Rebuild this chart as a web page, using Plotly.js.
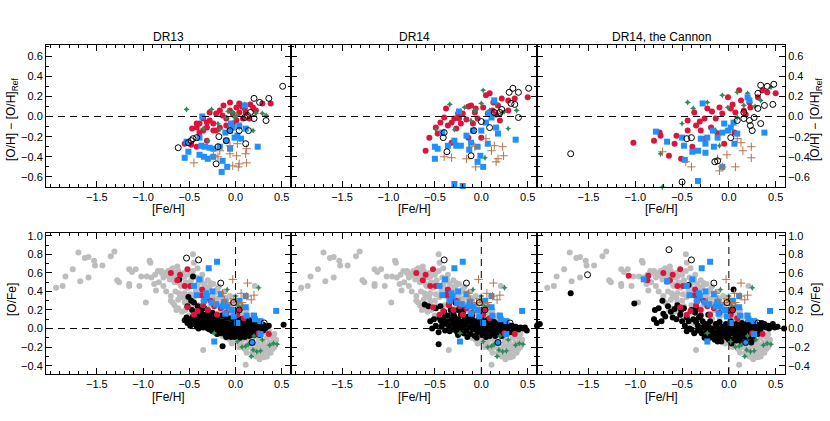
<!DOCTYPE html>
<html>
<head>
<meta charset="utf-8">
<script src="https://cdn.plot.ly/plotly-3.0.1.min.js"></script>
<style>
  body { margin: 0; background: #fff; }
  #graph { width: 830px; height: 421px; }
</style>
</head>
<body>
<div id="graph"></div>
<script>
// [Fe/H], [O/H]-[O/H]Ref  -- top row, one set per release
var dr13_red = [[-0.55,-0.27],[-0.42,-0.30],[-0.47,-0.12],[-0.42,-0.11],[-0.39,-0.07],[-0.35,-0.02],[-0.31,-0.06],[-0.28,-0.04],[-0.24,-0.07],[-0.21,-0.14],[-0.17,0.06],[-0.14,0.01],[-0.10,-0.02],[-0.06,0.06],[-0.03,0.03],[0.01,0.09],[0.04,0.04],[0.08,-0.02],[-0.06,0.14],[0.04,0.13],[0.11,0.04],[0.19,0.09],[0.29,0.13],[0.38,0.13],[-0.24,-0.14],[-0.35,-0.14],[-0.39,-0.16],[-0.17,-0.11],[-0.31,-0.24],[-0.10,-0.09],[-0.03,-0.07],[-0.21,0.03],[-0.28,0.04],[0.01,-0.04],[0.15,-0.02],[0.22,0.06],[0.10,0.08],[-0.31,-0.11],[-0.42,-0.07],[-0.13,0.11],[0.07,0.10],[0.16,0.12],[-0.48,-0.28]];
var dr13_green = [[-0.53,0.07],[-0.26,0.07],[-0.17,-0.13],[-0.08,0.05],[-0.01,-0.01],[0.10,0.12],[0.19,-0.14],[0.29,0.03],[0.33,0.01],[-0.30,-0.24],[-0.37,-0.30],[-0.03,0.04],[0.02,0.01],[0.22,0.03],[-0.19,-0.07],[0.04,-0.11],[-0.10,-0.01],[-0.35,-0.12]];
var dr13_blue = [[-0.53,-0.25],[-0.55,-0.41],[-0.51,-0.35],[-0.36,0.00],[-0.39,-0.21],[-0.37,-0.29],[-0.33,-0.30],[-0.28,-0.31],[-0.24,-0.32],[-0.39,-0.38],[-0.34,-0.40],[-0.30,-0.42],[-0.24,-0.40],[-0.15,-0.55],[-0.09,-0.50],[-0.14,-0.44],[-0.11,-0.16],[-0.06,-0.14],[-0.03,-0.11],[-0.01,-0.21],[0.02,-0.19],[0.06,-0.22],[0.11,-0.12],[0.04,-0.09],[0.24,-0.30],[-0.06,-0.32],[-0.10,-0.24],[-0.17,-0.30],[-0.05,-0.07],[0.10,0.11]];
var dr13_brown = [[-0.45,-0.46],[-0.24,-0.39],[-0.17,-0.34],[-0.06,-0.29],[-0.03,-0.49],[0.01,-0.39],[0.03,-0.50],[0.04,-0.47],[0.11,-0.37],[0.12,-0.32],[0.12,-0.46],[-0.06,-0.37],[0.02,-0.27],[-0.19,-0.40]];
var dr13_open = [[-0.62,-0.31],[-0.51,-0.26],[-0.48,-0.24],[-0.46,-0.22],[-0.42,-0.21],[-0.21,-0.47],[-0.18,-0.20],[-0.10,-0.24],[-0.06,-0.14],[0.04,-0.14],[0.14,-0.14],[0.10,-0.01],[0.13,0.01],[0.16,0.04],[0.20,0.18],[0.26,0.14],[0.36,0.18],[0.33,-0.04],[0.20,-0.02],[0.51,0.30],[0.11,-0.27],[-0.19,-0.30]];

var dr14_red = [[-0.60,-0.34],[-0.56,-0.21],[-0.47,-0.17],[-0.49,-0.11],[-0.44,-0.06],[-0.36,-0.09],[-0.38,0.08],[-0.32,-0.06],[-0.29,-0.02],[-0.27,-0.12],[-0.22,-0.07],[-0.20,0.03],[-0.16,-0.03],[-0.11,0.11],[-0.07,0.04],[-0.04,-0.02],[0.02,0.09],[0.05,0.21],[0.09,0.23],[0.13,0.14],[0.18,0.11],[0.22,0.18],[0.29,0.16],[0.36,0.18],[0.50,0.19],[0.29,0.06],[0.20,-0.04],[0.00,-0.21],[-0.14,-0.21],[-0.32,-0.26],[-0.25,0.03],[-0.40,-0.01],[-0.09,-0.07],[-0.14,0.10],[0.07,0.03],[-0.06,0.08],[0.12,0.06],[-0.24,-0.02],[0.16,0.02]];
var dr14_green = [[0.02,0.26],[-0.34,0.12],[-0.18,0.09],[-0.49,-0.13],[-0.29,-0.13],[-0.11,-0.04],[-0.07,0.06],[0.16,0.13],[0.22,0.03],[0.38,0.06],[0.29,-0.12],[-0.13,-0.31],[0.04,-0.41],[0.00,0.13],[0.09,0.06],[0.25,0.05]];
var dr14_blue = [[-0.24,0.05],[-0.50,-0.30],[-0.47,-0.32],[-0.50,-0.42],[-0.42,-0.16],[-0.29,-0.24],[-0.27,-0.29],[-0.22,-0.29],[-0.16,-0.19],[-0.11,-0.26],[-0.04,-0.30],[-0.01,-0.39],[-0.04,-0.45],[0.02,-0.50],[-0.29,-0.67],[-0.20,-0.69],[0.00,-0.14],[0.05,-0.06],[0.11,-0.01],[0.16,-0.11],[0.18,-0.17],[0.07,-0.27],[0.14,0.16],[0.37,-0.23],[-0.09,-0.14],[-0.36,-0.29],[0.08,0.03],[-0.13,-0.33]];
var dr14_brown = [[-0.40,-0.40],[-0.32,-0.41],[-0.16,-0.42],[-0.07,-0.30],[-0.06,-0.50],[0.05,-0.22],[0.14,-0.29],[0.16,-0.45],[0.18,-0.42],[0.23,-0.30],[0.24,-0.39],[0.11,-0.34]];
var dr14_open = [[-0.40,-0.16],[-0.41,-0.21],[-0.37,-0.35],[-0.08,-0.14],[-0.11,-0.39],[0.09,-0.11],[0.14,0.04],[0.20,0.04],[0.22,0.07],[0.32,0.13],[0.36,0.12],[0.40,-0.01],[0.30,0.24],[0.34,0.28],[0.40,0.24],[0.51,0.28],[0.63,0.39],[0.64,0.19],[0.00,-0.05]];

var can_red = [[-1.02,-0.26],[-0.80,-0.24],[-0.74,-0.16],[-0.73,-0.19],[-0.64,-0.39],[-0.56,-0.19],[-0.51,-0.42],[-0.44,-0.14],[-0.39,-0.30],[-0.37,0.04],[-0.35,-0.09],[-0.31,-0.05],[-0.30,-0.14],[-0.26,-0.02],[-0.23,0.08],[-0.19,-0.11],[-0.14,-0.02],[-0.10,0.09],[-0.07,0.03],[-0.01,0.19],[0.02,0.08],[0.07,0.04],[0.11,0.26],[0.13,0.16],[0.16,0.06],[0.22,0.14],[0.23,0.09],[0.31,0.19],[0.36,0.26],[0.41,0.24],[0.50,0.23],[-0.05,-0.27],[0.06,-0.16],[-0.44,-0.04],[-0.58,-0.27],[-0.12,-0.17],[-0.26,-0.22],[-0.18,0.05],[0.04,0.12],[0.18,0.02]];
var can_green = [[-0.44,0.14],[-0.38,0.08],[-0.50,-0.07],[-0.73,-0.37],[-0.23,0.14],[-0.07,0.21],[-0.01,0.09],[0.09,0.24],[0.20,0.23],[0.16,0.11],[0.45,0.29],[-0.30,-0.22],[-0.10,-0.29],[-0.14,-0.14],[0.09,-0.01],[0.34,0.16],[-0.71,-0.70],[0.28,0.10]];
var can_blue = [[-0.78,-0.15],[-0.66,-0.25],[-0.28,0.13],[-0.50,-0.21],[-0.48,-0.29],[-0.47,-0.43],[-0.39,-0.35],[-0.33,-0.34],[-0.25,-0.36],[-0.33,-0.64],[-0.30,-0.22],[-0.25,-0.27],[-0.17,-0.14],[-0.12,-0.21],[-0.07,-0.16],[-0.07,-0.50],[-0.05,-0.07],[-0.01,-0.14],[0.02,-0.11],[0.06,-0.27],[0.09,-0.17],[0.20,0.19],[0.22,0.16],[0.38,-0.16],[-0.16,-0.30],[-0.23,-0.21],[0.05,-0.06]];
var can_brown = [[-0.71,-0.35],[-0.46,-0.45],[-0.40,-0.50],[-0.12,-0.42],[-0.10,-0.54],[-0.07,-0.50],[0.07,-0.50],[0.13,-0.26],[0.15,-0.34],[0.24,-0.30],[0.24,-0.41],[0.09,-0.22],[-0.02,-0.38]];
var can_open = [[-1.69,-0.37],[-0.50,-0.65],[-0.45,-0.22],[-0.40,-0.21],[-0.15,-0.45],[-0.12,-0.44],[0.02,-0.21],[0.09,-0.04],[0.16,-0.02],[0.22,-0.04],[0.23,-0.09],[0.25,-0.14],[0.27,-0.01],[0.31,0.08],[0.34,-0.07],[0.38,0.11],[0.34,0.31],[0.41,0.30],[0.48,0.32],[0.47,0.12],[0.31,0.23],[0.61,0.36],[0.16,0.04]];

// [Fe/H], [O/Fe] -- bottom row
var ref_gray = [[-1.94,0.44],[-1.87,0.46],[-1.84,0.56],[-1.76,0.64],[-1.70,0.82],[-1.68,0.51],[-1.63,0.76],[-1.59,0.77],[-1.59,0.55],[-1.53,0.73],[-1.52,0.68],[-1.44,0.68],[-1.35,0.78],[-1.31,0.83],[-1.28,0.52],[-1.26,0.50],[-1.15,0.64],[-1.12,0.61],[-1.15,0.48],[-1.15,0.46],[-1.04,0.46],[-1.08,0.64],[-1.02,0.56],[-0.96,0.56],[-0.93,0.73],[-0.92,0.71],[-0.97,0.28],[-0.91,0.55],[-0.87,0.58],[-0.86,0.41],[-0.84,0.62],[-0.80,0.60],[-0.76,0.57],[-0.73,0.62],[-0.71,0.53],[-0.68,0.65],[-0.66,0.60],[-0.63,0.67],[-0.70,0.35],[-0.68,0.28],[-0.64,0.20],[-0.61,0.38],[-0.59,0.46],[-0.55,0.56],[-0.52,0.49],[-0.46,0.80],[-0.45,0.71],[-0.41,0.65],[-0.41,0.47],[-0.37,0.53],[-0.35,-0.23],[-0.30,0.44],[-0.27,0.49],[-0.23,0.38],[-0.20,0.42],[-0.16,0.35],[-0.11,0.33],[-0.05,0.24],[0.00,0.19],[0.05,0.13],[0.11,-0.39],[0.12,0.06],[0.20,0.10],[0.21,0.46],[0.23,-0.08],[0.27,-0.19],[0.30,-0.28],[0.34,-0.23],[0.37,-0.15],[0.41,-0.10],[0.43,-0.14],[0.20,-0.23],[0.14,-0.15],[0.09,-0.19],[0.02,-0.08],[-0.09,-0.05],[-0.20,0.03],[-0.30,0.10],[-0.41,0.17],[-0.48,0.24],[-0.55,0.28],[-0.62,0.31],
  [-0.80,0.62],[-0.78,0.55],[-0.75,0.60],[-0.72,0.58],[-0.70,0.63],[-0.68,0.55],[-0.66,0.50],[-0.64,0.58],[-0.62,0.62],[-0.60,0.48],[-0.58,0.55],[-0.56,0.60],[-0.54,0.50],[-0.52,0.44],[-0.50,0.58],[-0.48,0.52],[-0.46,0.62],[-0.44,0.45],[-0.42,0.55],[-0.40,0.50],[-0.38,0.42],[-0.36,0.58],[-0.34,0.48],[-0.32,0.40],[-0.30,0.52],[-0.28,0.45],[-0.26,0.36],[-0.24,0.48],[-0.22,0.40],[-0.20,0.32],[-0.18,0.45],[-0.16,0.38],[-0.14,0.28],[-0.12,0.40],[-0.10,0.30],[-0.08,0.22],[-0.06,0.35],[-0.04,0.26],[-0.02,0.18],[0.00,0.30],[0.02,0.22],[0.04,0.14],[0.06,0.25],[0.08,0.18],[0.10,0.08],[0.12,0.20],[0.14,0.12],[0.16,0.02],[0.18,0.14],[0.20,0.05],[0.22,-0.02],[0.24,0.08],[0.26,0.00],[0.28,-0.06],[0.30,0.04],[0.32,-0.04],[0.34,-0.10],[0.36,-0.02],[0.38,-0.08],[0.40,-0.16],[0.42,-0.06],[0.44,-0.12],
  [-0.70,0.30],[-0.66,0.25],[-0.62,0.22],[-0.58,0.18],[-0.54,0.20],[-0.50,0.14],[-0.46,0.12],[-0.42,0.08],[-0.38,0.06],[-0.34,0.02],[-0.30,0.00],[-0.26,-0.02],[-0.22,-0.04],[-0.18,-0.06],[-0.14,-0.08],[-0.10,-0.10],[-0.06,-0.12],[-0.02,-0.10],[0.02,-0.14],[0.06,-0.16],[0.10,-0.22],[0.14,-0.20],[0.18,-0.26],[0.22,-0.22],[0.26,-0.28],[0.30,-0.24],[0.34,-0.30],[0.38,-0.26],[0.42,-0.20],
  [-0.65,0.40],[-0.60,0.35],[-0.55,0.38],[-0.50,0.30],[-0.45,0.34],[-0.40,0.25],[-0.35,0.30],[-0.30,0.22],[-0.25,0.26],[-0.20,0.16],[-0.15,0.20],[-0.10,0.12],[-0.05,0.15],[0.00,0.06],[0.05,0.08],[0.10,0.00],[0.15,0.04],[0.20,-0.08],[0.25,-0.12],[0.30,-0.14],[0.35,-0.18],[0.05,-0.05],[0.12,-0.10],[0.18,-0.16],[0.28,-0.20],[-0.08,0.05],[-0.18,0.10],
  [0.08,-0.12],[0.16,-0.19],[0.24,-0.17],[0.32,-0.19],[0.36,-0.25],[0.40,-0.22],[0.28,-0.26],[0.22,-0.30],[0.12,-0.26],[0.04,-0.20],[-0.04,-0.16],[0.26,-0.33],[0.31,-0.31],[-0.56,0.33],[-0.49,0.37],[-0.43,0.40],[-0.37,0.36],[-0.31,0.31],[-0.24,0.32],[-0.19,0.27],[-0.75,0.40],[-0.78,0.46],[-0.83,0.50],[-0.88,0.48]];

var dr13_black = [[-0.61,0.53],[-0.46,0.56],[-0.51,0.34],[-0.48,0.30],[-0.52,0.24],[-0.45,0.28],[-0.41,0.24],[-0.37,0.20],[-0.34,0.22],[-0.30,0.19],[-0.28,0.15],[-0.25,0.17],[-0.42,0.17],[-0.47,0.20],[-0.36,0.14],[-0.22,0.12],
  [-0.55,0.09],[-0.53,0.12],[-0.52,0.06],[-0.50,0.10],[-0.49,0.03],[-0.47,0.08],[-0.46,0.13],[-0.45,0.05],[-0.43,0.10],[-0.42,0.02],[-0.40,0.07],[-0.39,0.12],[-0.38,0.04],[-0.36,0.09],[-0.35,0.01],[-0.33,0.06],[-0.32,0.11],[-0.31,0.03],[-0.29,0.08],[-0.28,-0.01],[-0.27,0.05],[-0.26,0.10],[-0.24,0.02],[-0.23,0.07],[-0.22,-0.03],[-0.20,0.04],[-0.19,0.09],[-0.18,0.00],[-0.17,0.06],[-0.16,-0.05],[-0.15,0.03],[-0.14,0.08],[-0.13,-0.02],[-0.12,0.04],[-0.11,-0.07],[-0.10,0.01],[-0.09,0.06],[-0.08,-0.04],[-0.07,0.02],[-0.06,-0.08],[-0.05,0.00],[-0.04,0.05],[-0.03,-0.05],[-0.02,0.02],[-0.01,-0.09],[0.00,0.00],[0.01,0.05],[0.02,-0.04],[0.03,0.02],[0.04,-0.07],[0.05,0.01],[0.06,0.06],[0.07,-0.03],[0.08,0.02],[0.09,-0.06],[0.10,0.00],[0.11,0.04],[0.12,-0.04],[0.13,0.01],[0.14,-0.07],[0.15,0.02],[0.16,0.06],[0.17,-0.02],[0.18,0.03],[0.19,-0.05],[0.20,0.01],[0.21,0.05],[0.22,-0.02],[0.23,0.02],[0.24,-0.06],[0.25,0.00],[0.26,0.04],[0.27,-0.03],[0.28,0.02],[0.30,0.04],[0.32,0.00],[0.34,0.02],[0.36,0.03],[0.52,0.04],[-0.14,-0.19],
  [-0.20,0.13],[-0.10,0.12],[0.00,0.09],[0.05,0.10],[-0.05,0.11],[0.10,0.08],[-0.15,0.14],[0.15,0.09],[0.20,0.07],[-0.10,-0.09],[0.00,-0.08],[0.10,-0.09],[0.05,-0.10],[-0.05,-0.09],[0.15,-0.08],[0.20,-0.07],[-0.20,-0.06],[-0.30,0.00],[-0.40,0.00],[-0.25,-0.03],[-0.35,0.15],[-0.30,0.13],[0.08,0.10],[0.18,0.08],[0.26,-0.07],[0.30,-0.02]];

var dr14_black = [[-0.38,0.36],[-0.61,0.26],[-0.57,0.24],[-0.49,0.22],[-0.44,0.24],[-0.35,0.26],[-0.28,0.28],[-0.51,0.10],[-0.49,0.03],[-0.46,-0.04],[-0.46,-0.17],[-0.42,0.06],[-0.55,0.08],[-0.53,0.00],[-0.40,0.18],[-0.33,0.20],[-0.25,0.20],[-0.20,0.22],[-0.45,0.12],
  [-0.44,0.09],[-0.43,0.02],[-0.41,0.12],[-0.40,0.05],[-0.39,-0.02],[-0.37,0.08],[-0.36,0.14],[-0.35,0.03],[-0.34,-0.03],[-0.32,0.10],[-0.31,0.05],[-0.30,-0.01],[-0.29,0.13],[-0.28,0.07],[-0.27,0.02],[-0.26,-0.04],[-0.25,0.10],[-0.24,0.04],[-0.23,-0.01],[-0.22,0.15],[-0.21,0.07],[-0.20,0.01],[-0.19,-0.05],[-0.18,0.11],[-0.17,0.04],[-0.16,-0.02],[-0.15,0.08],[-0.14,0.13],[-0.13,0.01],[-0.12,-0.06],[-0.11,0.06],[-0.10,0.10],[-0.09,-0.01],[-0.08,0.04],[-0.07,-0.08],[-0.06,0.08],[-0.05,0.01],[-0.04,-0.04],[-0.03,0.05],[-0.02,0.11],[-0.01,-0.02],[0.00,0.03],[0.01,-0.07],[0.02,0.07],[0.03,0.00],[0.04,-0.04],[0.05,0.04],[0.06,0.09],[0.07,-0.02],[0.08,0.02],[0.09,-0.08],[0.10,0.05],[0.11,-0.01],[0.12,0.03],[0.13,-0.05],[0.14,0.07],[0.15,0.00],[0.16,-0.03],[0.17,0.04],[0.18,-0.06],[0.19,0.02],[0.20,0.06],[0.21,-0.02],[0.22,0.03],[0.23,-0.05],[0.24,0.01],[0.25,0.05],[0.26,-0.03],[0.27,0.02],[0.28,-0.01],[0.30,0.03],[0.31,-0.04],[0.33,0.03],[0.35,0.00],[0.37,0.02],[0.40,-0.01],[0.42,0.01],[0.45,0.00],[0.47,0.01],[0.49,-0.02],[0.61,0.04],[0.60,0.03],
  [-0.15,-0.09],[-0.05,-0.10],[0.05,-0.09],[0.15,-0.08],[0.22,-0.08],[-0.25,-0.07],[-0.10,0.14],[0.00,0.12],[0.10,0.10],[-0.30,0.16],[-0.20,0.17]];

var can_black = [[-1.69,0.38],[-1.01,0.27],[-2.02,0.05],[-2.04,0.04],[-0.71,0.30],[-0.79,0.20],[-0.75,0.22],[-0.70,0.16],[-0.72,0.08],[-0.68,0.13],[-0.65,0.24],[-0.58,0.21],[-0.52,0.15],[-0.51,0.20],[-0.47,0.03],[-0.43,0.08],[-0.40,-0.01],[-0.43,0.47],[-0.36,0.17],[-0.33,0.03],[-0.29,-0.05],[-0.26,-0.10],[-0.22,0.03],[-0.19,-0.05],[-0.15,-0.12],[-0.11,-0.01],[-0.06,-0.08],[-0.01,-0.01],[0.05,0.42],[0.06,-0.05],[0.10,0.03],[0.17,-0.08],[0.21,-0.01],[0.24,-0.15],[0.28,0.03],[0.35,0.06],[0.42,0.03],[0.46,0.03],[0.49,0.01],[0.59,0.00],
  [-0.77,0.06],[-0.80,0.10],[-0.60,0.12],[-0.55,0.25],[-0.48,0.22],[-0.45,0.12],[-0.40,0.20],[-0.38,0.10],[-0.35,0.07],[-0.32,0.12],[-0.30,0.00],[-0.28,0.08],[-0.25,0.05],[-0.24,-0.02],[-0.20,0.08],[-0.18,0.00],[-0.17,-0.08],[-0.14,0.05],[-0.12,-0.05],[-0.10,0.07],[-0.09,-0.10],[-0.07,0.02],[-0.05,-0.03],[-0.03,0.05],[-0.02,-0.10],[0.00,0.02],[0.01,-0.06],[0.02,0.08],[0.03,-0.02],[0.04,-0.12],[0.05,0.02],[0.07,-0.08],[0.08,0.05],[0.09,-0.03],[0.11,-0.10],[0.12,0.02],[0.13,-0.05],[0.14,0.06],[0.15,-0.02],[0.16,-0.12],[0.18,0.02],[0.19,-0.05],[0.20,0.06],[0.22,-0.04],[0.23,0.01],[0.25,-0.07],[0.26,0.04],[0.27,-0.02],[0.29,0.05],[0.30,-0.01],[0.32,0.03],[0.33,-0.04],[0.36,0.02],[0.38,0.05],[0.40,0.01],[0.44,0.02],[0.47,0.05],[0.52,0.02],
  [-0.45,-0.03],[-0.42,0.00],[-0.37,-0.05],[-0.20,-0.10],[-0.08,-0.14],[0.00,-0.12],[0.08,-0.13],[0.18,-0.10],[-0.62,0.18],[-0.56,0.10],[-0.50,0.08],[-0.35,0.22],[-0.30,0.14],[-0.22,0.15],
  [-0.13,0.02],[-0.04,-0.06],[0.06,0.00],[0.10,-0.06],[0.17,0.03],[0.21,-0.09],[-0.16,-0.04],[-0.27,0.02],[0.31,-0.06],[0.02,-0.03],
  [-0.23,-0.07],[-0.14,-0.09],[-0.06,0.00],[-0.01,-0.07],[0.04,0.04],[0.09,-0.09],[0.14,-0.07],[0.20,-0.03],[0.24,0.00],[0.28,-0.05],[-0.10,-0.04],[0.01,0.00],[0.07,-0.04],[0.12,-0.01],[0.16,0.00],[0.22,0.02],[-0.20,0.00],[-0.33,-0.02],[0.34,0.00],[0.43,0.00],[-0.12,-0.14],[0.26,-0.11],[0.03,-0.16],[0.13,-0.14]];

// literature [O/Fe] of the comparison stars (same in all bottom panels)
var ref_red = [[-0.52,0.64],[-0.60,0.58],[-0.63,0.52],[-0.55,0.46],[-0.49,0.46],[-0.36,0.42],[-0.37,0.36],[-0.32,0.33],[-0.27,0.30],[-0.45,0.15],[-0.52,0.23],[-0.35,0.25],[-0.23,0.24],[-0.30,0.20],[-0.16,0.22],[-0.12,0.28],[-0.41,0.19],[-0.10,0.17],[0.02,0.15],[0.09,0.11],[0.04,0.20],[-0.20,0.15],[0.36,-0.06],[0.25,-0.05],[-0.70,0.60]];
var ref_blue = [[-0.20,0.72],[-0.29,0.65],[-0.39,0.53],[-0.45,0.46],[-0.32,0.38],[-0.31,0.35],[-0.25,0.40],[-0.42,0.36],[-0.16,0.37],[-0.26,0.28],[-0.34,0.30],[-0.21,0.26],[-0.12,0.29],[-0.09,0.24],[-0.04,0.20],[0.04,0.30],[0.11,0.35],[0.11,0.23],[0.12,0.14],[0.20,0.14],[0.21,0.10],[0.27,0.08],[0.02,0.06],[0.44,0.19],[-0.23,-0.14],[0.27,-0.06],[0.18,-0.15],[-0.14,0.24],[-0.02,0.13],[-0.11,0.16]];
var ref_green = [[-0.09,0.42],[-0.13,0.28],[0.00,0.35],[0.02,0.25],[0.07,0.24],[-0.23,-0.05],[0.02,-0.14],[0.07,-0.20],[0.11,-0.19],[0.14,-0.17],[0.19,-0.23],[0.23,-0.25],[0.27,-0.24],[0.17,-0.30],[0.37,-0.18],[0.41,-0.16],[0.45,-0.17],[0.20,-0.08],[0.29,-0.12],[-0.09,0.22],[0.25,0.44]];
var ref_brown = [[-0.03,0.53],[0.13,0.49],[0.06,0.38],[0.20,0.36],[0.17,0.31],[-0.02,0.32],[0.07,0.28],[-0.14,0.38],[-0.12,0.31],[-0.23,0.29],[0.02,0.28],[0.12,0.35],[-0.05,0.28]];
var ref_open = [[-0.40,0.74],[-0.16,0.49],[-0.02,0.28],[0.04,0.20],[0.31,0.06],[0.18,-0.15],[0.09,-0.01]];
var dr13_extra_open = [[-0.53,0.76]];
var can_extra_red = [[-1.07,0.57],[-0.86,0.57],[-0.87,0.52]];
var can_extra_blue = [[-0.91,0.53],[-0.66,0.51]];
var can_extra_open = [[-1.51,0.58],[-0.64,0.85]];

var titles = ["DR13", "DR14", "DR14, the Cannon"];
var feh_ticks = [-1.5, -1.0, -0.5, 0.0, 0.5];

var FONT = "Liberation Sans, Arial, sans-serif";
var RED = "#dc143c", BLUE = "#1e90ff", GREEN = "#2e8b57", BROWN = "#b8734a", GRAY = "#bdbdbd";

function pts(list, xa, ya, marker) {
  return {
    x: list.map(function(p){ return p[0]; }),
    y: list.map(function(p){ return p[1]; }),
    xaxis: xa, yaxis: ya, type: "scatter", mode: "markers",
    cliponaxis: false, hoverinfo: "skip", showlegend: false,
    marker: marker
  };
}
function mRed() { return {color: RED, size: 6, line: {width: 0}}; }
function mBlack() { return {color: "#000", size: 6, line: {width: 0}}; }
function mGray() { return {color: GRAY, size: 6, line: {width: 0}}; }
function mBlue() { return {color: BLUE, size: 6, symbol: "square", line: {width: 0}}; }
function mGreen() { return {color: GREEN, size: 4.5, symbol: "star-diamond", line: {width: 0}}; }
function mBrown() { return {color: BROWN, size: 6, symbol: "cross-thin", line: {color: BROWN, width: 1}}; }
function mOpen() { return {color: "#000", size: 6, symbol: "circle-open", line: {color: "#000", width: 1}}; }

var data = [];
var topSets = [
  [dr13_red, dr13_green, dr13_blue, dr13_brown, dr13_open],
  [dr14_red, dr14_green, dr14_blue, dr14_brown, dr14_open],
  [can_red, can_green, can_blue, can_brown, can_open]
];
topSets.forEach(function(s, i) {
  var xa = "x" + (i === 0 ? "" : i + 1), ya = "y" + (i === 0 ? "" : i + 1);
  data.push(pts(s[0], xa, ya, mRed()));
  data.push(pts(s[1], xa, ya, mGreen()));
  data.push(pts(s[2], xa, ya, mBlue()));
  data.push(pts(s[3], xa, ya, mBrown()));
  data.push(pts(s[4], xa, ya, mOpen()));
});

var blacks = [dr13_black, dr14_black, can_black];
var extraRed = [[], [], can_extra_red];
var extraBlue = [[], [], can_extra_blue];
var extraOpen = [dr13_extra_open, [], can_extra_open];
for (var i = 0; i < 3; i++) {
  var xa = "x" + (i + 4), ya = "y" + (i + 4);
  data.push(pts(ref_gray, xa, ya, mGray()));
  data.push(pts(blacks[i], xa, ya, mBlack()));
  data.push(pts(ref_red.concat(extraRed[i]), xa, ya, mRed()));
  data.push(pts(ref_green, xa, ya, mGreen()));
  data.push(pts(ref_blue.concat(extraBlue[i]), xa, ya, mBlue()));
  data.push(pts(ref_brown, xa, ya, mBrown()));
  data.push(pts(ref_open.concat(extraOpen[i]), xa, ya, mOpen()));
}

var W = 830, H = 421;
var colPx = [[46, 291], [291, 537], [537, 785]];
var rowPx = [[45, 187], [233, 374]];

function axisBase() {
  return {
    showline: true, linecolor: "#000", linewidth: 1, mirror: "ticks",
    ticks: "inside", ticklen: 6, tickwidth: 1, tickcolor: "#000",
    minor: {ticks: "inside", ticklen: 3, tickwidth: 1, tickcolor: "#000", tickmode: "linear", tick0: 0, dtick: 0.1},
    showgrid: false, zeroline: false, tickformat: ".1f",
    tickfont: {family: FONT, size: 11, color: "#000"}
  };
}

var layout = {
  width: W, height: H,
  margin: {l: 0, r: 0, t: 0, b: 0},
  paper_bgcolor: "#fff", plot_bgcolor: "#fff",
  showlegend: false,
  shapes: [], annotations: []
};

function note(text, px, py, angle) {
  return {text: text, xref: "paper", yref: "paper", x: px / W, y: 1 - py / H,
    xanchor: "center", yanchor: "middle", textangle: angle || 0,
    showarrow: false, font: {family: FONT, size: 12, color: "#000"}};
}

for (var r = 0; r < 2; r++) {
  for (var c = 0; c < 3; c++) {
    var n = r * 3 + c + 1;
    var key = n === 1 ? "" : n;
    var xa = axisBase(), ya = axisBase();
    xa.domain = [colPx[c][0] / W, colPx[c][1] / W];
    xa.range = [-2.05, 0.6];
    xa.tickmode = "array"; xa.tickvals = feh_ticks;
    xa.anchor = "y" + key;
    ya.domain = [1 - rowPx[r][1] / H, 1 - rowPx[r][0] / H];
    ya.range = r === 0 ? [-0.7, 0.71] : [-0.49, 1.03];
    ya.tick0 = 0; ya.dtick = 0.2;
    ya.anchor = "x" + key;
    ya.showticklabels = c !== 1;
    if (c === 2) ya.side = "right";
    layout["xaxis" + key] = xa;
    layout["yaxis" + key] = ya;

    layout.shapes.push({type: "line", xref: "x" + key + " domain", yref: "y" + key,
      x0: 0, x1: 1, y0: 0, y1: 0, line: {color: "#000", width: 1, dash: "7px,5px"}});
    if (r === 1) {
      layout.shapes.push({type: "line", xref: "x" + key, yref: "y" + key + " domain",
        x0: 0, x1: 0, y0: 0, y1: 1, line: {color: "#000", width: 1, dash: "7px,5px"}});
    }
    layout.annotations.push(note("[Fe/H]", (colPx[c][0] + colPx[c][1]) / 2, r === 0 ? 209 : 397));
  }
}

titles.forEach(function(t, c) {
  layout.annotations.push(note(t, (colPx[c][0] + colPx[c][1]) / 2, 37));
});

var ytitles = [["[O/H] − [O/H]<sub>Ref</sub>", 120], ["[O/Fe]", 300]];
ytitles.forEach(function(t) {
  layout.annotations.push(note(t[0], 12, t[1], -90));
  layout.annotations.push(note(t[0], 816, t[1], -90));
});

Plotly.newPlot("graph", data, layout, {staticPlot: true});
</script>
</body>
</html>
